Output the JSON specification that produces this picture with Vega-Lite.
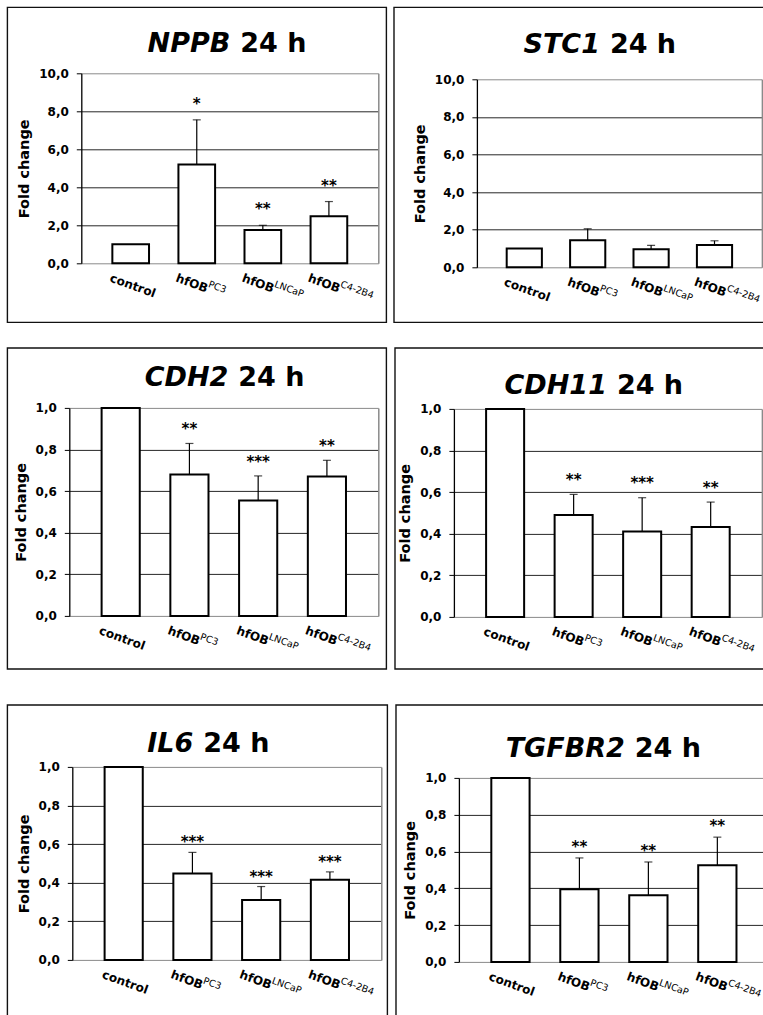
{
  "$schema": "https://vega.github.io/schema/vega-lite/v6.json",
  "background": "white",
  "padding": {"left": 6.3, "top": 6.3, "right": -7.7, "bottom": -10.7},
  "config": {
    "font": "DejaVu Sans",
    "view": {"stroke": "#111111", "strokeWidth": 1.4},
    "axisY": {
      "domainColor": "#000000", "domainWidth": 1.3,
      "tickColor": "#000000", "tickSize": 5, "tickWidth": 1,
      "labelFont": "DejaVu Sans", "labelFontSize": 12, "labelFontWeight": "bold", "labelColor": "#000000", "labelPadding": 8,
      "titleFont": "DejaVu Sans", "titleFontSize": 14.5, "titleFontWeight": "bold", "titleColor": "#000000", "titlePadding": 7
    }
  },
  "spacing": 33.6,
  "vconcat": [
    {
      "spacing": 23.6,
      "vconcat": [
        {
          "spacing": 5.6,
          "hconcat": [
            {
              "width": 379, "height": 315,
              "resolve": {"axis": {"y": "independent"}},
              "data": {"values": [
                {"group": "control", "main": "control", "sup": "", "value": 1.0, "upper": null, "sig": ""},
                {"group": "PC3", "main": "hfOB", "sup": "PC3", "value": 5.2, "upper": 7.55, "sig": "*"},
                {"group": "LNCaP", "main": "hfOB", "sup": "LNCaP", "value": 1.75, "upper": 2.0, "sig": "**"},
                {"group": "C4-2B4", "main": "hfOB", "sup": "C4-2B4", "value": 2.48, "upper": 3.25, "sig": "**"}
              ]},
              "layer": [
                {"mark": {"type": "bar", "fill": "white", "stroke": "black", "strokeWidth": 2},
                 "encoding": {
                   "x": {"field": "group", "type": "nominal", "sort": null, "axis": null,
                         "scale": {"domain": ["control", "PC3", "LNCaP", "C4-2B4"], "range": [74, 371], "paddingInner": 0.445, "paddingOuter": 0.47}},
                   "y": {"field": "value", "type": "quantitative", "title": "Fold change", "scale": {"domain": [0, 10], "range": [256, 66], "nice": false},
                         "axis": {"offset": -74, "values": [0, 2, 4, 6, 8, 10], "labelExpr": "replace(format(datum.value, '.1f'), '.', ',')", "grid": true, "gridWidth": 1,
                                  "gridColor": {"condition": {"test": "datum.value == 0 || datum.value == 10", "value": "#8a8a8a"}, "value": "#262626"}}}}},
                {"transform": [{"filter": "datum.upper != null"}],
                 "mark": {"type": "rule", "color": "black", "strokeWidth": 1.2},
                 "encoding": {
                   "x": {"field": "group", "type": "nominal", "sort": null, "axis": null},
                   "y": {"field": "value", "type": "quantitative", "scale": {"domain": [0, 10], "range": [256, 66], "nice": false},
                         "axis": {"orient": "right", "offset": -8, "labels": false, "ticks": false, "grid": false, "title": null, "domainColor": "#8a8a8a", "domainWidth": 1.5}},
                   "y2": {"field": "upper"}}},
                {"transform": [{"filter": "datum.upper != null"}],
                 "mark": {"type": "tick", "color": "black", "thickness": 1.2, "size": 8, "orient": "horizontal"},
                 "encoding": {
                   "x": {"field": "group", "type": "nominal", "sort": null, "axis": null},
                   "y": {"field": "upper", "type": "quantitative", "axis": null}}},
                {"transform": [{"filter": "datum.sig != ''"}],
                 "mark": {"type": "text", "fontSize": 15, "fontWeight": "bold", "baseline": "alphabetic", "dy": -11, "color": "black"},
                 "encoding": {
                   "x": {"field": "group", "type": "nominal", "sort": null, "axis": null},
                   "y": {"field": "upper", "type": "quantitative", "axis": null},
                   "text": {"field": "sig"}}},
                {"mark": {"type": "text", "align": "left", "baseline": "top", "angle": 20, "dx": 3, "dy": 9, "fontSize": 12, "fontWeight": "bold", "color": "black"},
                 "encoding": {
                   "x": {"field": "group", "type": "nominal", "sort": null, "bandPosition": 0, "axis": null},
                   "y": {"datum": 0, "type": "quantitative", "axis": null},
                   "text": {"field": "main"}}},
                {"transform": [{"filter": "datum.sup != ''"}],
                 "mark": {"type": "text", "align": "left", "baseline": "top", "angle": 20, "dx": 35.5, "dy": 4, "fontSize": 9.5, "color": "black"},
                 "encoding": {
                   "x": {"field": "group", "type": "nominal", "sort": null, "bandPosition": 0, "axis": null},
                   "y": {"datum": 0, "type": "quantitative", "axis": null},
                   "text": {"field": "sup"}}},
                {"data": {"values": [{"gene": "NPPB"}]},
                 "mark": {"type": "text", "align": "right", "baseline": "alphabetic", "fontSize": 27, "fontWeight": "bold", "fontStyle": "italic", "color": "black"},
                 "encoding": {
                   "x": {"datum": "LNCaP", "type": "nominal", "bandPosition": -0.387, "axis": null},
                   "y": {"datum": 11.105, "type": "quantitative", "axis": null},
                   "text": {"field": "gene"}}},
                {"data": {"values": [{"time": "24 h"}]},
                 "mark": {"type": "text", "align": "left", "baseline": "alphabetic", "fontSize": 27, "fontWeight": "bold", "color": "black"},
                 "encoding": {
                   "x": {"datum": "LNCaP", "type": "nominal", "bandPosition": -0.114, "axis": null},
                   "y": {"datum": 11.105, "type": "quantitative", "axis": null},
                   "text": {"field": "time"}}}
              ]
            },
            {
              "width": 377, "height": 315,
              "resolve": {"axis": {"y": "independent"}},
              "data": {"values": [
                {"group": "control", "main": "control", "sup": "", "value": 1.0, "upper": null, "sig": ""},
                {"group": "PC3", "main": "hfOB", "sup": "PC3", "value": 1.44, "upper": 2.05, "sig": ""},
                {"group": "LNCaP", "main": "hfOB", "sup": "LNCaP", "value": 0.96, "upper": 1.17, "sig": ""},
                {"group": "C4-2B4", "main": "hfOB", "sup": "C4-2B4", "value": 1.19, "upper": 1.41, "sig": ""}
              ]},
              "layer": [
                {"mark": {"type": "bar", "fill": "white", "stroke": "black", "strokeWidth": 2},
                 "encoding": {
                   "x": {"field": "group", "type": "nominal", "sort": null, "axis": null,
                         "scale": {"domain": ["control", "PC3", "LNCaP", "C4-2B4"], "range": [83, 368], "paddingInner": 0.445, "paddingOuter": 0.47}},
                   "y": {"field": "value", "type": "quantitative", "title": "Fold change", "scale": {"domain": [0, 10], "range": [260, 72], "nice": false},
                         "axis": {"offset": -83, "values": [0, 2, 4, 6, 8, 10], "labelExpr": "replace(format(datum.value, '.1f'), '.', ',')", "grid": true, "gridWidth": 1,
                                  "gridColor": {"condition": {"test": "datum.value == 0 || datum.value == 10", "value": "#8a8a8a"}, "value": "#262626"}}}}},
                {"transform": [{"filter": "datum.upper != null"}],
                 "mark": {"type": "rule", "color": "black", "strokeWidth": 1.2},
                 "encoding": {
                   "x": {"field": "group", "type": "nominal", "sort": null, "axis": null},
                   "y": {"field": "value", "type": "quantitative", "scale": {"domain": [0, 10], "range": [260, 72], "nice": false},
                         "axis": {"orient": "right", "offset": -9, "labels": false, "ticks": false, "grid": false, "title": null, "domainColor": "#8a8a8a", "domainWidth": 1.5}},
                   "y2": {"field": "upper"}}},
                {"transform": [{"filter": "datum.upper != null"}],
                 "mark": {"type": "tick", "color": "black", "thickness": 1.2, "size": 8, "orient": "horizontal"},
                 "encoding": {
                   "x": {"field": "group", "type": "nominal", "sort": null, "axis": null},
                   "y": {"field": "upper", "type": "quantitative", "axis": null}}},
                {"mark": {"type": "text", "align": "left", "baseline": "top", "angle": 20, "dx": 3, "dy": 9, "fontSize": 12, "fontWeight": "bold", "color": "black"},
                 "encoding": {
                   "x": {"field": "group", "type": "nominal", "sort": null, "bandPosition": 0, "axis": null},
                   "y": {"datum": 0, "type": "quantitative", "axis": null},
                   "text": {"field": "main"}}},
                {"transform": [{"filter": "datum.sup != ''"}],
                 "mark": {"type": "text", "align": "left", "baseline": "top", "angle": 20, "dx": 35.5, "dy": 4, "fontSize": 9.5, "color": "black"},
                 "encoding": {
                   "x": {"field": "group", "type": "nominal", "sort": null, "bandPosition": 0, "axis": null},
                   "y": {"datum": 0, "type": "quantitative", "axis": null},
                   "text": {"field": "sup"}}},
                {"data": {"values": [{"gene": "STC1"}]},
                 "mark": {"type": "text", "align": "right", "baseline": "alphabetic", "fontSize": 27, "fontWeight": "bold", "fontStyle": "italic", "color": "black"},
                 "encoding": {
                   "x": {"datum": "PC3", "type": "nominal", "bandPosition": 0.847, "axis": null},
                   "y": {"datum": 11.38, "type": "quantitative", "axis": null},
                   "text": {"field": "gene"}}},
                {"data": {"values": [{"time": "24 h"}]},
                 "mark": {"type": "text", "align": "left", "baseline": "alphabetic", "fontSize": 27, "fontWeight": "bold", "color": "black"},
                 "encoding": {
                   "x": {"datum": "PC3", "type": "nominal", "bandPosition": 1.131, "axis": null},
                   "y": {"datum": 11.38, "type": "quantitative", "axis": null},
                   "text": {"field": "time"}}}
              ]
            }
          ]
        },
        {
          "spacing": 6.6,
          "hconcat": [
            {
              "width": 379, "height": 321,
              "resolve": {"axis": {"y": "independent"}},
              "data": {"values": [
                {"group": "control", "main": "control", "sup": "", "value": 1.0, "upper": null, "sig": ""},
                {"group": "PC3", "main": "hfOB", "sup": "PC3", "value": 0.68, "upper": 0.829, "sig": "**"},
                {"group": "LNCaP", "main": "hfOB", "sup": "LNCaP", "value": 0.555, "upper": 0.673, "sig": "***"},
                {"group": "C4-2B4", "main": "hfOB", "sup": "C4-2B4", "value": 0.67, "upper": 0.748, "sig": "**"}
              ]},
              "layer": [
                {"mark": {"type": "bar", "fill": "white", "stroke": "black", "strokeWidth": 2},
                 "encoding": {
                   "x": {"field": "group", "type": "nominal", "sort": null, "axis": null,
                         "scale": {"domain": ["control", "PC3", "LNCaP", "C4-2B4"], "range": [62, 371], "paddingInner": 0.445, "paddingOuter": 0.47}},
                   "y": {"field": "value", "type": "quantitative", "title": "Fold change", "scale": {"domain": [0, 1], "range": [268, 60], "nice": false},
                         "axis": {"offset": -62, "values": [0, 0.2, 0.4, 0.6, 0.8, 1], "labelExpr": "replace(format(datum.value, '.1f'), '.', ',')", "grid": true, "gridWidth": 1,
                                  "gridColor": {"condition": {"test": "datum.value == 0 || datum.value == 1", "value": "#8a8a8a"}, "value": "#262626"}}}}},
                {"transform": [{"filter": "datum.upper != null"}],
                 "mark": {"type": "rule", "color": "black", "strokeWidth": 1.2},
                 "encoding": {
                   "x": {"field": "group", "type": "nominal", "sort": null, "axis": null},
                   "y": {"field": "value", "type": "quantitative", "scale": {"domain": [0, 1], "range": [268, 60], "nice": false},
                         "axis": {"orient": "right", "offset": -8, "labels": false, "ticks": false, "grid": false, "title": null, "domainColor": "#8a8a8a", "domainWidth": 1.5}},
                   "y2": {"field": "upper"}}},
                {"transform": [{"filter": "datum.upper != null"}],
                 "mark": {"type": "tick", "color": "black", "thickness": 1.2, "size": 8, "orient": "horizontal"},
                 "encoding": {
                   "x": {"field": "group", "type": "nominal", "sort": null, "axis": null},
                   "y": {"field": "upper", "type": "quantitative", "axis": null}}},
                {"transform": [{"filter": "datum.sig != ''"}],
                 "mark": {"type": "text", "fontSize": 15, "fontWeight": "bold", "baseline": "alphabetic", "dy": -9, "color": "black"},
                 "encoding": {
                   "x": {"field": "group", "type": "nominal", "sort": null, "axis": null},
                   "y": {"field": "upper", "type": "quantitative", "axis": null},
                   "text": {"field": "sig"}}},
                {"mark": {"type": "text", "align": "left", "baseline": "top", "angle": 20, "dx": 3, "dy": 9, "fontSize": 12, "fontWeight": "bold", "color": "black"},
                 "encoding": {
                   "x": {"field": "group", "type": "nominal", "sort": null, "bandPosition": 0, "axis": null},
                   "y": {"datum": 0, "type": "quantitative", "axis": null},
                   "text": {"field": "main"}}},
                {"transform": [{"filter": "datum.sup != ''"}],
                 "mark": {"type": "text", "align": "left", "baseline": "top", "angle": 20, "dx": 35.5, "dy": 4, "fontSize": 9.5, "color": "black"},
                 "encoding": {
                   "x": {"field": "group", "type": "nominal", "sort": null, "bandPosition": 0, "axis": null},
                   "y": {"datum": 0, "type": "quantitative", "axis": null},
                   "text": {"field": "sup"}}},
                {"data": {"values": [{"gene": "CDH2"}]},
                 "mark": {"type": "text", "align": "right", "baseline": "alphabetic", "fontSize": 27, "fontWeight": "bold", "fontStyle": "italic", "color": "black"},
                 "encoding": {
                   "x": {"datum": "LNCaP", "type": "nominal", "bandPosition": -0.283, "axis": null},
                   "y": {"datum": 1.106, "type": "quantitative", "axis": null},
                   "text": {"field": "gene"}}},
                {"data": {"values": [{"time": "24 h"}]},
                 "mark": {"type": "text", "align": "left", "baseline": "alphabetic", "fontSize": 27, "fontWeight": "bold", "color": "black"},
                 "encoding": {
                   "x": {"datum": "LNCaP", "type": "nominal", "bandPosition": -0.021, "axis": null},
                   "y": {"datum": 1.106, "type": "quantitative", "axis": null},
                   "text": {"field": "time"}}}
              ]
            },
            {
              "width": 376, "height": 321,
              "resolve": {"axis": {"y": "independent"}},
              "data": {"values": [
                {"group": "control", "main": "control", "sup": "", "value": 1.0, "upper": null, "sig": ""},
                {"group": "PC3", "main": "hfOB", "sup": "PC3", "value": 0.49, "upper": 0.589, "sig": "**"},
                {"group": "LNCaP", "main": "hfOB", "sup": "LNCaP", "value": 0.41, "upper": 0.573, "sig": "***"},
                {"group": "C4-2B4", "main": "hfOB", "sup": "C4-2B4", "value": 0.432, "upper": 0.552, "sig": "**"}
              ]},
              "layer": [
                {"mark": {"type": "bar", "fill": "white", "stroke": "black", "strokeWidth": 2},
                 "encoding": {
                   "x": {"field": "group", "type": "nominal", "sort": null, "axis": null,
                         "scale": {"domain": ["control", "PC3", "LNCaP", "C4-2B4"], "range": [59, 367], "paddingInner": 0.445, "paddingOuter": 0.47}},
                   "y": {"field": "value", "type": "quantitative", "title": "Fold change", "scale": {"domain": [0, 1], "range": [269, 61], "nice": false},
                         "axis": {"offset": -59, "values": [0, 0.2, 0.4, 0.6, 0.8, 1], "labelExpr": "replace(format(datum.value, '.1f'), '.', ',')", "grid": true, "gridWidth": 1,
                                  "gridColor": {"condition": {"test": "datum.value == 0 || datum.value == 1", "value": "#8a8a8a"}, "value": "#262626"}}}}},
                {"transform": [{"filter": "datum.upper != null"}],
                 "mark": {"type": "rule", "color": "black", "strokeWidth": 1.2},
                 "encoding": {
                   "x": {"field": "group", "type": "nominal", "sort": null, "axis": null},
                   "y": {"field": "value", "type": "quantitative", "scale": {"domain": [0, 1], "range": [269, 61], "nice": false},
                         "axis": {"orient": "right", "offset": -9, "labels": false, "ticks": false, "grid": false, "title": null, "domainColor": "#8a8a8a", "domainWidth": 1.5}},
                   "y2": {"field": "upper"}}},
                {"transform": [{"filter": "datum.upper != null"}],
                 "mark": {"type": "tick", "color": "black", "thickness": 1.2, "size": 8, "orient": "horizontal"},
                 "encoding": {
                   "x": {"field": "group", "type": "nominal", "sort": null, "axis": null},
                   "y": {"field": "upper", "type": "quantitative", "axis": null}}},
                {"transform": [{"filter": "datum.sig != ''"}],
                 "mark": {"type": "text", "fontSize": 15, "fontWeight": "bold", "baseline": "alphabetic", "dy": -9.5, "color": "black"},
                 "encoding": {
                   "x": {"field": "group", "type": "nominal", "sort": null, "axis": null},
                   "y": {"field": "upper", "type": "quantitative", "axis": null},
                   "text": {"field": "sig"}}},
                {"mark": {"type": "text", "align": "left", "baseline": "top", "angle": 20, "dx": 3, "dy": 9, "fontSize": 12, "fontWeight": "bold", "color": "black"},
                 "encoding": {
                   "x": {"field": "group", "type": "nominal", "sort": null, "bandPosition": 0, "axis": null},
                   "y": {"datum": 0, "type": "quantitative", "axis": null},
                   "text": {"field": "main"}}},
                {"transform": [{"filter": "datum.sup != ''"}],
                 "mark": {"type": "text", "align": "left", "baseline": "top", "angle": 20, "dx": 35.5, "dy": 4, "fontSize": 9.5, "color": "black"},
                 "encoding": {
                   "x": {"field": "group", "type": "nominal", "sort": null, "bandPosition": 0, "axis": null},
                   "y": {"datum": 0, "type": "quantitative", "axis": null},
                   "text": {"field": "sup"}}},
                {"data": {"values": [{"gene": "CDH11"}]},
                 "mark": {"type": "text", "align": "right", "baseline": "alphabetic", "fontSize": 27, "fontWeight": "bold", "fontStyle": "italic", "color": "black"},
                 "encoding": {
                   "x": {"datum": "PC3", "type": "nominal", "bandPosition": 1.375, "axis": null},
                   "y": {"datum": 1.072, "type": "quantitative", "axis": null},
                   "text": {"field": "gene"}}},
                {"data": {"values": [{"time": "24 h"}]},
                 "mark": {"type": "text", "align": "left", "baseline": "alphabetic", "fontSize": 27, "fontWeight": "bold", "color": "black"},
                 "encoding": {
                   "x": {"datum": "PC3", "type": "nominal", "bandPosition": 1.638, "axis": null},
                   "y": {"datum": 1.072, "type": "quantitative", "axis": null},
                   "text": {"field": "time"}}}
              ]
            }
          ]
        }
      ]
    },
    {
      "spacing": 6.6,
      "hconcat": [
        {
          "width": 380, "height": 322,
          "resolve": {"axis": {"y": "independent"}},
          "data": {"values": [
            {"group": "control", "main": "control", "sup": "", "value": 1.0, "upper": null, "sig": ""},
            {"group": "PC3", "main": "hfOB", "sup": "PC3", "value": 0.447, "upper": 0.557, "sig": "***"},
            {"group": "LNCaP", "main": "hfOB", "sup": "LNCaP", "value": 0.31, "upper": 0.38, "sig": "***"},
            {"group": "C4-2B4", "main": "hfOB", "sup": "C4-2B4", "value": 0.415, "upper": 0.456, "sig": "***"}
          ]},
          "layer": [
            {"mark": {"type": "bar", "fill": "white", "stroke": "black", "strokeWidth": 2},
             "encoding": {
               "x": {"field": "group", "type": "nominal", "sort": null, "axis": null,
                     "scale": {"domain": ["control", "PC3", "LNCaP", "C4-2B4"], "range": [65, 374], "paddingInner": 0.445, "paddingOuter": 0.47}},
               "y": {"field": "value", "type": "quantitative", "title": "Fold change", "scale": {"domain": [0, 1], "range": [255, 62], "nice": false},
                     "axis": {"offset": -65, "values": [0, 0.2, 0.4, 0.6, 0.8, 1], "labelExpr": "replace(format(datum.value, '.1f'), '.', ',')", "grid": true, "gridWidth": 1,
                              "gridColor": {"condition": {"test": "datum.value == 0 || datum.value == 1", "value": "#8a8a8a"}, "value": "#262626"}}}}},
            {"transform": [{"filter": "datum.upper != null"}],
             "mark": {"type": "rule", "color": "black", "strokeWidth": 1.2},
             "encoding": {
               "x": {"field": "group", "type": "nominal", "sort": null, "axis": null},
               "y": {"field": "value", "type": "quantitative", "scale": {"domain": [0, 1], "range": [255, 62], "nice": false},
                     "axis": {"orient": "right", "offset": -6, "labels": false, "ticks": false, "grid": false, "title": null, "domainColor": "#8a8a8a", "domainWidth": 1.5}},
               "y2": {"field": "upper"}}},
            {"transform": [{"filter": "datum.upper != null"}],
             "mark": {"type": "tick", "color": "black", "thickness": 1.2, "size": 8, "orient": "horizontal"},
             "encoding": {
               "x": {"field": "group", "type": "nominal", "sort": null, "axis": null},
               "y": {"field": "upper", "type": "quantitative", "axis": null}}},
            {"transform": [{"filter": "datum.sig != ''"}],
             "mark": {"type": "text", "fontSize": 15, "fontWeight": "bold", "baseline": "alphabetic", "dy": -5, "color": "black"},
             "encoding": {
               "x": {"field": "group", "type": "nominal", "sort": null, "axis": null},
               "y": {"field": "upper", "type": "quantitative", "axis": null},
               "text": {"field": "sig"}}},
            {"mark": {"type": "text", "align": "left", "baseline": "top", "angle": 20, "dx": 3, "dy": 9, "fontSize": 12, "fontWeight": "bold", "color": "black"},
             "encoding": {
               "x": {"field": "group", "type": "nominal", "sort": null, "bandPosition": 0, "axis": null},
               "y": {"datum": 0, "type": "quantitative", "axis": null},
               "text": {"field": "main"}}},
            {"transform": [{"filter": "datum.sup != ''"}],
             "mark": {"type": "text", "align": "left", "baseline": "top", "angle": 20, "dx": 35.5, "dy": 4, "fontSize": 9.5, "color": "black"},
             "encoding": {
               "x": {"field": "group", "type": "nominal", "sort": null, "bandPosition": 0, "axis": null},
               "y": {"datum": 0, "type": "quantitative", "axis": null},
               "text": {"field": "sup"}}},
            {"data": {"values": [{"gene": "IL6"}]},
             "mark": {"type": "text", "align": "right", "baseline": "alphabetic", "fontSize": 27, "fontWeight": "bold", "fontStyle": "italic", "color": "black"},
             "encoding": {
               "x": {"datum": "PC3", "type": "nominal", "bandPosition": 0.523, "axis": null},
               "y": {"datum": 1.078, "type": "quantitative", "axis": null},
               "text": {"field": "gene"}}},
            {"data": {"values": [{"time": "24 h"}]},
             "mark": {"type": "text", "align": "left", "baseline": "alphabetic", "fontSize": 27, "fontWeight": "bold", "color": "black"},
             "encoding": {
               "x": {"datum": "PC3", "type": "nominal", "bandPosition": 0.785, "axis": null},
               "y": {"datum": 1.078, "type": "quantitative", "axis": null},
               "text": {"field": "time"}}}
          ]
        },
        {
          "width": 375, "height": 322,
          "resolve": {"axis": {"y": "independent"}},
          "data": {"values": [
            {"group": "control", "main": "control", "sup": "", "value": 1.0, "upper": null, "sig": ""},
            {"group": "PC3", "main": "hfOB", "sup": "PC3", "value": 0.395, "upper": 0.565, "sig": "**"},
            {"group": "LNCaP", "main": "hfOB", "sup": "LNCaP", "value": 0.362, "upper": 0.543, "sig": "**"},
            {"group": "C4-2B4", "main": "hfOB", "sup": "C4-2B4", "value": 0.525, "upper": 0.678, "sig": "**"}
          ]},
          "layer": [
            {"mark": {"type": "bar", "fill": "white", "stroke": "black", "strokeWidth": 2},
             "encoding": {
               "x": {"field": "group", "type": "nominal", "sort": null, "axis": null,
                     "scale": {"domain": ["control", "PC3", "LNCaP", "C4-2B4"], "range": [63, 373], "paddingInner": 0.445, "paddingOuter": 0.47}},
               "y": {"field": "value", "type": "quantitative", "title": "Fold change", "scale": {"domain": [0, 1], "range": [257, 73], "nice": false},
                     "axis": {"offset": -63, "values": [0, 0.2, 0.4, 0.6, 0.8, 1], "labelExpr": "replace(format(datum.value, '.1f'), '.', ',')", "grid": true, "gridWidth": 1,
                              "gridColor": {"condition": {"test": "datum.value == 0 || datum.value == 1", "value": "#8a8a8a"}, "value": "#262626"}}}}},
            {"transform": [{"filter": "datum.upper != null"}],
             "mark": {"type": "rule", "color": "black", "strokeWidth": 1.2},
             "encoding": {
               "x": {"field": "group", "type": "nominal", "sort": null, "axis": null},
               "y": {"field": "value", "type": "quantitative", "scale": {"domain": [0, 1], "range": [257, 73], "nice": false},
                     "axis": {"orient": "right", "offset": -2, "labels": false, "ticks": false, "grid": false, "title": null, "domainColor": "#8a8a8a", "domainWidth": 1.5}},
               "y2": {"field": "upper"}}},
            {"transform": [{"filter": "datum.upper != null"}],
             "mark": {"type": "tick", "color": "black", "thickness": 1.2, "size": 8, "orient": "horizontal"},
             "encoding": {
               "x": {"field": "group", "type": "nominal", "sort": null, "axis": null},
               "y": {"field": "upper", "type": "quantitative", "axis": null}}},
            {"transform": [{"filter": "datum.sig != ''"}],
             "mark": {"type": "text", "fontSize": 15, "fontWeight": "bold", "baseline": "alphabetic", "dy": -6, "color": "black"},
             "encoding": {
               "x": {"field": "group", "type": "nominal", "sort": null, "axis": null},
               "y": {"field": "upper", "type": "quantitative", "axis": null},
               "text": {"field": "sig"}}},
            {"mark": {"type": "text", "align": "left", "baseline": "top", "angle": 20, "dx": 3, "dy": 9, "fontSize": 12, "fontWeight": "bold", "color": "black"},
             "encoding": {
               "x": {"field": "group", "type": "nominal", "sort": null, "bandPosition": 0, "axis": null},
               "y": {"datum": 0, "type": "quantitative", "axis": null},
               "text": {"field": "main"}}},
            {"transform": [{"filter": "datum.sup != ''"}],
             "mark": {"type": "text", "align": "left", "baseline": "top", "angle": 20, "dx": 35.5, "dy": 4, "fontSize": 9.5, "color": "black"},
             "encoding": {
               "x": {"field": "group", "type": "nominal", "sort": null, "bandPosition": 0, "axis": null},
               "y": {"datum": 0, "type": "quantitative", "axis": null},
               "text": {"field": "sup"}}},
            {"data": {"values": [{"gene": "TGFBR2"}]},
             "mark": {"type": "text", "align": "right", "baseline": "alphabetic", "fontSize": 27, "fontWeight": "bold", "fontStyle": "italic", "color": "black"},
             "encoding": {
               "x": {"datum": "LNCaP", "type": "nominal", "bandPosition": -0.115, "axis": null},
               "y": {"datum": 1.114, "type": "quantitative", "axis": null},
               "text": {"field": "gene"}}},
            {"data": {"values": [{"time": "24 h"}]},
             "mark": {"type": "text", "align": "left", "baseline": "alphabetic", "fontSize": 27, "fontWeight": "bold", "color": "black"},
             "encoding": {
               "x": {"datum": "LNCaP", "type": "nominal", "bandPosition": 0.146, "axis": null},
               "y": {"datum": 1.114, "type": "quantitative", "axis": null},
               "text": {"field": "time"}}}
          ]
        }
      ]
    }
  ]
}
